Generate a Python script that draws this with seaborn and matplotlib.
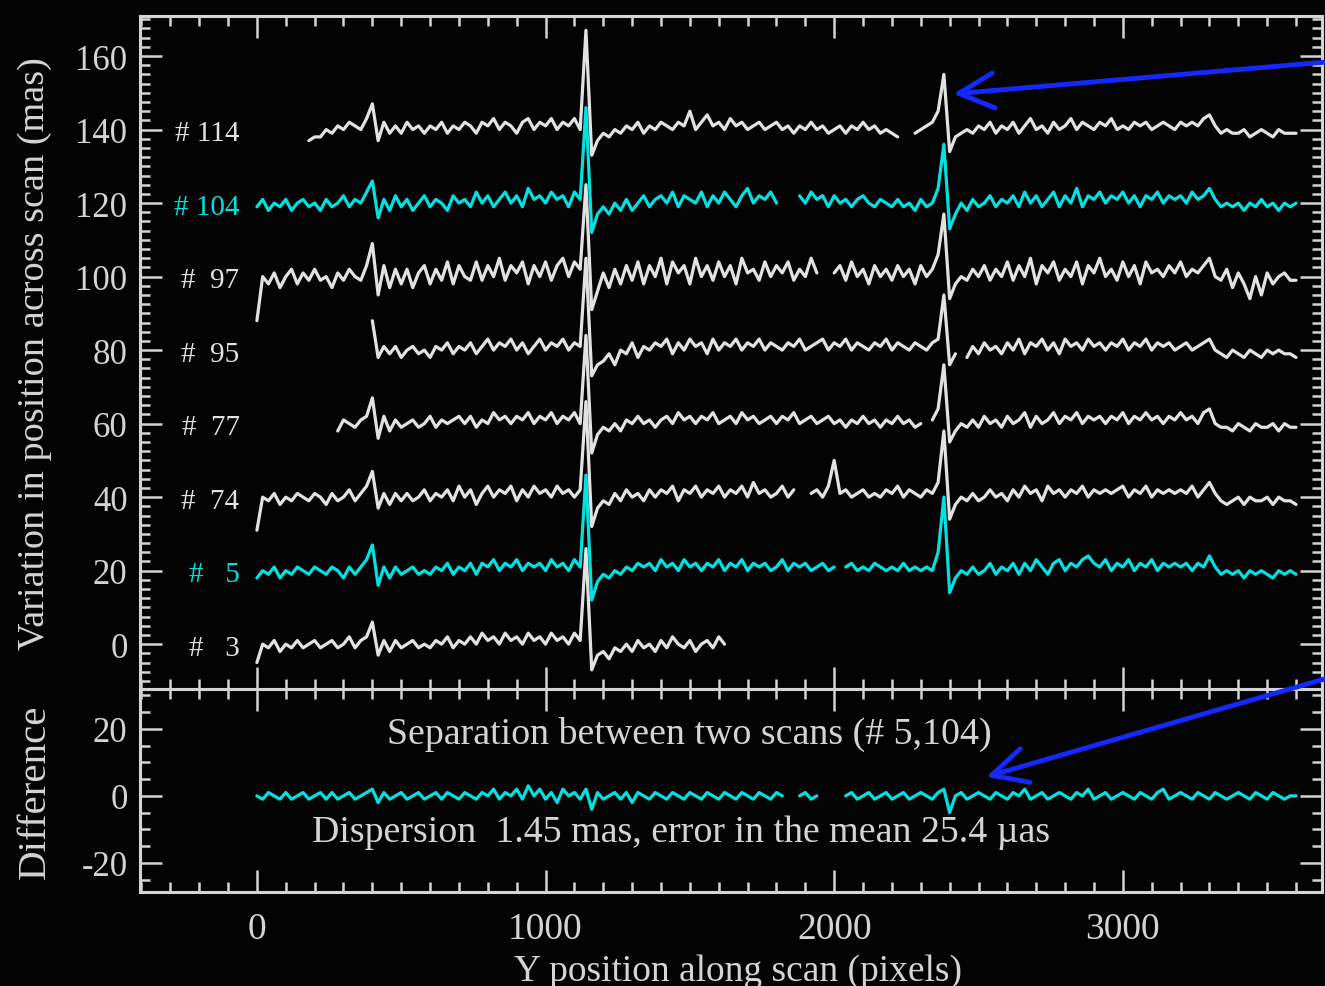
import numpy as np
import pandas as pd
import matplotlib
matplotlib.use("Agg")
import matplotlib.pyplot as plt
from matplotlib.ticker import MultipleLocator
import seaborn as sns

nan = float("nan")

# ---------------- data ----------------
X_STEP = 20  # sampling step along the scan (pixels)

scan_numbers = [114, 104, 97, 95, 77, 74, 5, 3]
scan_offsets = [140, 120, 100, 80, 60, 40, 20, 0]
scan_start = [180, 0, 0, 400, 280, 0, 0, 0]
scan_is_cyan = [False, True, False, False, False, False, True, False]

dev_114 = [
    -3,
    -2, -2, 0, -1, 1, 0, 2, 1, 0, 3,
    7, -3, 2, -1, 1, -1, 2, 0, 1, -1,
    1, 0, 2, -1, 1, 0, 2, 1, -1, 2,
    1, 3, 0, 2, 1, -1, 2, 3, 0, 2,
    1, 3, 0, 2, 1, 3, 0, 27, -7, -3,
    -1, -2, 0, -1, 1, 0, 2, -1, 1, 0,
    2, 1, 0, 2, 1, 5, 0, 2, 4, 1,
    2, 0, 3, 1, 2, 0, 1, 2, 0, 1,
    2, 0, 1, -1, 1, 0, 2, 0, 1, -1,
    0, 1, -1, 1, 0, 2, 0, 1, -1, 0,
    -1, -2, nan, nan, -1, 0, 1, 2, 5, 15,
    -6, -2, -1, 0, -1, 1, 0, 2, -1, 1,
    0, 2, -1, 1, 3, 0, 1, -1, 2, 0,
    1, 3, 0, 2, 1, 0, 2, 1, 3, 0,
    1, 0, 2, 1, 2, 0, 1, 2, 1, 0,
    2, 1, 2, 1, 3, 4, 1, -1, 0, -1,
    -1, 0, -2, -1, 0, -1, -2, 0, -1, -1,
    -1,
]
dev_104 = [
    -1, 1, -2, 0, -1, 1, -2, 0, 1, -1,
    0, -2, 1, -1, 0, 2, -1, 1, 0, 3,
    6, -4, 1, -2, 2, -1, 1, -2, 0, 2,
    -1, 1, 0, -2, 2, 0, 1, -1, 3, 0,
    2, -1, 1, 3, 0, 2, -1, 4, 1, 2,
    0, 3, 1, 2, -1, 3, 1, 26, -8, -3,
    -1, -3, 0, -2, 1, -2, 0, 2, -1, 1,
    2, 0, 3, -1, 2, 1, 0, 3, -1, 2,
    0, 3, 1, -1, 2, 4, 0, 2, 1, 3,
    0, nan, nan, nan, 2, 0, 3, 1, 2, -1,
    2, 0, 1, -1, 1, 2, 0, -1, 1, 0,
    -1, 1, -1, 0, -2, 1, -1, 0, 4, 16,
    -7, -3, 0, -2, 1, -1, 0, 2, -1, 1,
    0, 2, -1, 3, 0, 2, -1, 1, 3, -1,
    2, 0, 4, -1, 2, 1, 3, 0, 2, 1,
    3, 0, 2, -1, 2, 1, 3, 0, 2, 1,
    2, 0, 3, 1, 2, 4, 1, -1, 0, -1,
    0, -2, 0, -1, 1, -1, 0, -2, 0, -1,
    0,
]
dev_97 = [
    -12, 0, -2, 1, -3, 0, 2, -2, 1, -1,
    2, -1, 0, -3, 1, -1, 2, 0, -1, 3,
    9, -5, 3, -3, 2, -2, 2, -3, 1, 3,
    -2, 2, -1, 4, -2, 3, 0, -1, 4, -1,
    3, 0, 5, -1, 3, 1, 4, -2, 3, 0,
    4, -1, 3, 5, 0, 4, 2, 25, -9, -4,
    1, -3, 2, -2, 3, -1, 4, -2, 3, 0,
    5, -2, 4, 1, 3, -2, 5, 0, 3, -1,
    4, 0, 3, -2, 5, 1, 2, -1, 4, 0,
    3, 1, 4, -1, 2, 0, 5, 1, nan, nan,
    1, 3, -1, 4, 0, 2, -2, 3, 0, 2,
    -1, 3, 0, 2, -2, 3, 0, 2, 6, 17,
    -6, -2, 0, -1, 2, 0, 3, -1, 2, 0,
    4, -1, 3, 0, 5, -2, 3, 1, 4, -1,
    2, 0, 4, -2, 3, 1, 5, 0, 2, -1,
    4, 0, 3, -2, 4, 1, 2, 0, 3, 1,
    4, 0, 2, 1, 3, 5, 0, -1, 2, -3,
    1, -2, -6, 0, -5, 1, -2, 0, 1, -1,
    -1,
]
dev_95 = [
    8, -2, 1, -1, 1, -2, 0, 1, -1, 0,
    -2, 1, 0, 2, -1, 1, 0, 2, -1, 1,
    3, 0, 2, 1, 3, 0, 2, -1, 1, 3,
    0, 2, 1, 3, 0, 2, 1, 25, -7, -4,
    -3, -1, -4, 0, -1, 2, -2, 1, 0, 2,
    1, 3, -1, 2, 0, 3, 1, 2, -1, 3,
    0, 2, 1, 3, 0, 2, 1, 3, 0, 2,
    1, 0, 2, 1, 3, 0, 1, 2, 3, 0,
    2, 1, 3, 0, 2, 1, 0, 2, 1, 3,
    0, 2, 1, 0, 2, 1, 0, 2, 3, 15,
    -4, -1, nan, -2, 1, -1, 2, 0, 1, -1,
    2, 0, 3, -1, 2, 1, 3, 0, 2, -1,
    3, 1, 2, 0, 3, 1, 2, 0, 2, 1,
    3, 0, 2, 1, 3, 0, 2, 1, 2, 0,
    1, 2, 0, 1, 2, 3, 0, -1, -2, 0,
    -1, -2, 0, -1, -2, 0, -1, 0, -1, -1,
    -2,
]
dev_77 = [
    -2, 1, 0, -1, 1, 2,
    7, -4, 2, -2, 1, -1, 0, 1, -1, 0,
    2, -1, 1, 0, 1, 2, 0, 2, -1, 1,
    0, 3, 1, 2, 0, 2, 1, 3, 0, 2,
    1, 3, 0, 2, 1, 3, 0, 24, -8, -3,
    -1, -2, 0, -2, 1, 0, 2, 0, 1, -1,
    1, 2, 0, 3, 1, 2, 0, 2, 1, 3,
    0, 1, 2, 0, 3, 1, 2, 0, 1, 2,
    0, 2, 1, 3, 0, 1, 2, 0, 1, 2,
    0, 1, -1, 1, 0, 2, 0, 1, -1, 1,
    0, 2, 0, 1, -1, 0, nan, 1, 4, 16,
    -5, -2, 0, -1, 1, -1, 2, 0, 1, -1,
    2, 0, 1, 3, -1, 2, 0, 1, 3, 0,
    2, 1, 3, 0, 2, 1, 2, 0, 2, 1,
    3, 0, 2, 1, 3, 1, 2, 0, 2, 1,
    3, 1, 2, 0, 3, 4, 0, -1, -1, -2,
    0, -1, -2, 0, -1, -1, 0, -2, 0, -1,
    -1,
]
dev_74 = [
    -9, 0, -1, 1, -2, 0, -1, 1, 0, -1,
    1, 0, -2, 1, -1, 0, 2, -1, 1, 3,
    7, -3, 1, -2, 1, -1, 1, -1, 0, 2,
    -1, 1, 0, 2, -1, 3, 0, 2, -2, 1,
    3, 0, 2, 1, 3, -1, 2, 0, 3, 1,
    2, 0, 3, 1, 2, 0, 2, 26, -8, -3,
    -1, -2, 1, -1, 2, 0, 1, -1, 2, 0,
    2, 1, 3, -1, 2, 1, 3, 0, 2, 1,
    3, 0, 2, 1, 3, 0, 4, 1, 2, 0,
    1, 3, 0, 2, nan, nan, 1, 2, 0, 3,
    10, 1, 2, 0, 1, 2, 0, 1, 0, 2,
    1, 3, 0, 2, 1, 0, 2, 1, 4, 18,
    -6, -2, 0, -1, 1, -1, 0, 2, 0, 1,
    -1, 2, 0, 3, 1, 2, -1, 3, 1, 2,
    0, 2, 1, 3, 0, 2, 1, 2, 1, 2,
    3, 0, 2, 1, 3, 0, 2, 1, 2, 1,
    2, 1, 3, 0, 2, 4, 1, -1, -2, -1,
    0, -2, 0, -1, -1, 0, -2, 0, -1, -1,
    -2,
]
dev_5 = [
    -2, 0, -1, 1, -2, 0, -1, 1, 0, -1,
    1, 0, -1, 1, 0, -2, 1, -1, 1, 3,
    7, -4, 1, -2, 1, -1, 0, 1, -1, 0,
    -1, 1, 0, 2, -1, 1, 0, 2, -1, 2,
    1, 3, 0, 2, 1, 3, 0, 2, 1, 2,
    0, 3, 1, 2, 0, 3, 1, 26, -8, -3,
    -1, -2, 0, -1, 1, 0, 2, 1, 2, 0,
    3, 1, 2, 0, 3, 1, 2, 0, 2, 1,
    3, 0, 2, 1, 3, 0, 2, 1, 2, 0,
    1, 3, 0, 2, 1, 2, 0, 1, 2, 0,
    1, nan, 1, 2, 0, 1, 0, 2, 1, 0,
    1, 0, 2, 0, 1, 0, 1, 0, 5, 20,
    -6, -2, 0, -1, 1, -1, 0, 2, -1, 1,
    0, 2, -1, 2, 0, 3, 1, -1, 2, 3,
    0, 2, 1, 3, 4, 2, 1, 3, 0, 2,
    1, 3, 0, 2, 1, 3, 0, 2, 1, 2,
    1, 2, 0, 2, 1, 4, 1, -1, 0, -1,
    0, -2, 0, -1, 0, -1, -2, 0, -1, 0,
    -1,
]
dev_3 = [
    -5, 0, -1, 1, -2, 0, -1, 1, -1, 0,
    1, -1, 0, 1, -1, 0, 2, -1, 1, 2,
    6, -3, 1, -2, 1, -1, 0, 1, -1, 0,
    -1, 1, 0, 2, -1, 1, 0, 2, 0, 3,
    1, 2, 0, 3, 1, 2, 0, 3, 1, 2,
    0, 3, 1, 2, 0, 3, 1, 26, -7, -3,
    -2, -4, -1, -2, 0, -2, 1, -1, 0, -2,
    1, -1, 2, 0, -1, 1, -2, 0, 1, -1,
    2, 0,
]
scan_devs = [dev_114, dev_104, dev_97, dev_95, dev_77, dev_74, dev_5, dev_3]

diff_start = 0
diff_vals = [
    0, -1, 1, 0, -1, 1, -1, 0, 1, -1,
    0, 1, -1, 1, -1, 0, 1, -1, 0, 1,
    2, -2, 1, -1, 0, 1, -1, 0, 1, -1,
    0, 1, -1, 1, 0, -1, 1, 0, -1, 1,
    0, 2, -1, 1, 0, 2, -1, 3, 0, 2,
    -1, 1, -2, 2, 0, 1, -1, 2, -4, 1,
    -1, 0, 1, -1, 1, -2, 1, 0, -1, 1,
    0, -1, 1, 0, -1, 1, 0, -1, 1, 0,
    -1, 1, 0, -1, 1, 0, -1, 1, 0, -1,
    1, 0, nan, nan, 0, 1, -1, 0, nan, nan,
    nan, nan, 0, 1, -1, 0, 1, -1, 0, 1,
    -1, 0, 1, -1, 0, 1, 0, -1, 1, 2,
    -5, 0, 1, -1, 0, 1, 0, -1, 1, 0,
    -1, 1, 0, 2, -1, 0, 1, -1, 0, 1,
    0, -1, 1, 0, 2, -1, 0, 1, -1, 0,
    1, 0, -1, 1, 0, -1, 1, 2, -1, 0,
    1, 0, -1, 1, 0, -1, 1, 0, -1, 0,
    1, 0, -1, 1, 0, -1, 1, 0, -1, 0,
    0,
]

# ---------------- style ----------------
BG = "#030303"
FG = "#d4d4d4"
WHITE = "#e2e2e2"
CYAN = "#00e2e2"
BLUE = "#1428ff"

sns.set_style("ticks", {"axes.facecolor": BG, "figure.facecolor": BG})
plt.rcParams["font.family"] = ["Liberation Serif", "DejaVu Serif"]
plt.rcParams["axes.unicode_minus"] = False


def build_frame(values, start, offset, name):
    vals = np.asarray(values, dtype=float)
    x = start + X_STEP * np.arange(len(vals))
    y = vals + offset
    seg = np.cumsum(np.isnan(vals))
    df = pd.DataFrame({"x": x, "y": y, "seg": seg, "scan": name})
    return df.dropna()


fig = plt.figure(figsize=(13.25, 9.87), dpi=100)
fig.patch.set_facecolor(BG)
ax_top = fig.add_axes([140 / 1325, 1 - 690 / 987, 1182 / 1325, 673 / 987])
ax_bot = fig.add_axes([140 / 1325, 1 - 893 / 987, 1182 / 1325, 203 / 987])

for ax in (ax_top, ax_bot):
    ax.set_facecolor(BG)
    for sp in ax.spines.values():
        sp.set_color(FG)
        sp.set_linewidth(2.2)
        sp.set_visible(True)
    ax.tick_params(which="both", direction="in", top=True, right=True,
                   color=FG, labelcolor=FG, width=1.8)
    ax.tick_params(axis="y", labelsize=25, pad=9)
    ax.tick_params(axis="x", labelsize=27, pad=14)
    ax.tick_params(which="major", length=16)
    ax.tick_params(which="minor", length=7)
    ax.set_xlim(-405, 3690)
    ax.xaxis.set_major_locator(MultipleLocator(1000))
    ax.xaxis.set_minor_locator(MultipleLocator(100))

# top panel: scans drawn bottom to top
for i in reversed(range(len(scan_numbers))):
    name = "#" + f"{scan_numbers[i]:4d}"
    col = CYAN if scan_is_cyan[i] else WHITE
    df = build_frame(scan_devs[i], scan_start[i], scan_offsets[i], name)
    sns.lineplot(data=df, x="x", y="y", units="seg", estimator=None,
                 sort=False, color=col, linewidth=2.3, ax=ax_top)
    ax_top.text(-60, scan_offsets[i] - 1, name, ha="right", va="center",
                color=col, fontsize=21)

ax_top.set_ylim(-12.2, 170.9)
ax_top.yaxis.set_major_locator(MultipleLocator(20))
ax_top.yaxis.set_minor_locator(MultipleLocator(2.5))
ax_top.tick_params(axis="x", labelbottom=False)
ax_top.set_xlabel("")
ax_top.set_ylabel("Variation in position across scan (mas)", color=FG, fontsize=27.5)
ax_top.yaxis.set_label_coords(-0.0745, 0.5)

# bottom panel: difference
df_d = build_frame(diff_vals, diff_start, 0, "diff")
sns.lineplot(data=df_d, x="x", y="y", units="seg", estimator=None,
             sort=False, color=CYAN, linewidth=2.3, ax=ax_bot)
ax_bot.set_ylim(-28.7, 31.9)
ax_bot.yaxis.set_major_locator(MultipleLocator(20))
ax_bot.yaxis.set_minor_locator(MultipleLocator(5))
ax_bot.set_ylabel("Difference", color=FG, fontsize=29.5)
ax_bot.yaxis.set_label_coords(-0.073, 0.5)
ax_bot.set_xlabel("Y position along scan (pixels)", color=FG, fontsize=27)
ax_bot.xaxis.set_label_coords(0.506, -0.30)

ax_bot.text(1497, 18.5, "Separation between two scans (# 5,104)", ha="center",
            va="center", color=FG, fontsize=27.3)
ax_bot.text(190, -10.7, "Dispersion  1.45 mas, error in the mean 25.4 \u00b5as",
            ha="left", va="center", color=FG, fontsize=27.3)

# blue arrows
arrow_kw = dict(arrowstyle="->,head_length=0.9,head_width=0.45", color=BLUE,
                lw=3.5, mutation_scale=28, shrinkA=0, shrinkB=0)
ax_top.annotate("", xy=(2413, 149.7), xycoords="data",
                xytext=(1.01, 1 - 62 / 987), textcoords="figure fraction",
                arrowprops=arrow_kw, annotation_clip=False, zorder=10)
ax_bot.annotate("", xy=(2527, 5.7), xycoords="data",
                xytext=(1.01, 1 - 676 / 987), textcoords="figure fraction",
                arrowprops=arrow_kw, annotation_clip=False, zorder=10)

fig.savefig("out.png", dpi=100, facecolor=BG)
